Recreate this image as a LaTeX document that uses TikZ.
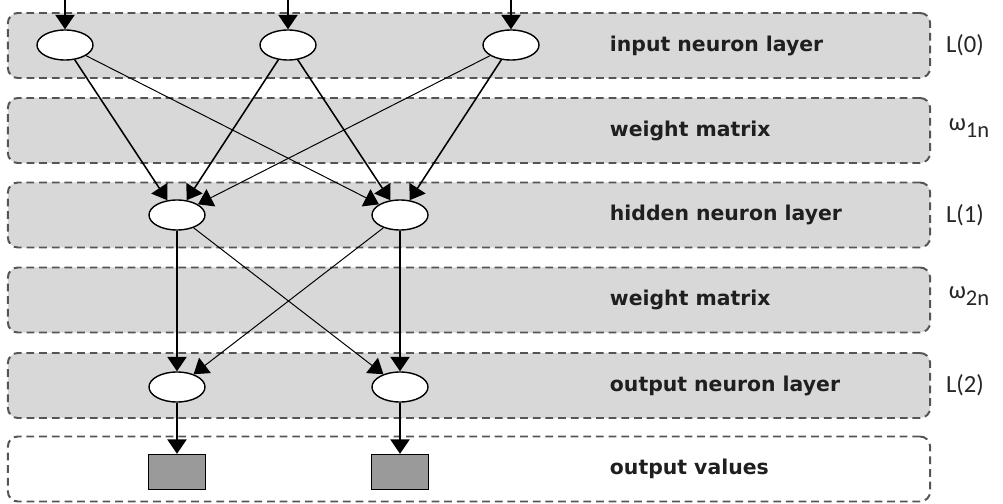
\documentclass[tikz,border=0pt]{standalone}
\usepackage{fontspec}
\usepackage{tikz}
\usetikzlibrary{
  arrows.meta,
  shapes
}
\newfontfamily\layerfont{DejaVu Sans}
\newfontfamily\sidefont{Carlito}
\definecolor{bandgray}{HTML}{D8D8D8}
\definecolor{dashgray}{HTML}{555555}
\definecolor{outgray}{HTML}{9A9A9A}
\newcommand{\wsub}[1]{ω\raisebox{-0.6ex}{\fontsize{16}{18}\selectfont #1}}
\tikzset{
  layer/.style={
    draw=dashgray,
    fill=bandgray,
    line width=1.4pt,
    dash pattern=on 5.5pt off 3.5pt,
    rounded corners=0.25cm,
    minimum width=23.05cm,
    minimum height=1.625cm},
  neuron/.style={
    ellipse,
    draw,
    fill=white,
    line width=1pt,
    minimum width=1.4cm,
    minimum height=0.75cm},
  outbox/.style={
    rectangle,
    draw,
    fill=outgray,
    line width=1pt,
    minimum width=1.425cm,
    minimum height=0.875cm},
  syn/.style={
    draw,
    -{Triangle[length=0.36cm,width=0.48cm]},
    line width=1.1pt},
  synthin/.style={
    syn,
    line width=0.7pt},
  tag/.style={
    anchor=west,
    font=\layerfont\bfseries\fontsize{14.5}{16}\selectfont,
    text=black!88},
  side/.style={
    font=\sidefont\fontsize{17.5}{20}\selectfont,
    text=black!85}
}

\begin{document}
\begin{tikzpicture}[x=0.025cm,y=-0.025cm]
    \useasboundingbox (0,0) rectangle (1003,504);
    % layer bands
    \node[layer] (band0) at (469,45.5) {};
    \node[layer] (band1) at (469,130.5) {};
    \node[layer] (band2) at (469,215) {};
    \node[layer] (band3) at (469,300) {};
    \node[layer] (band4) at (469,385.5) {};
    \node[layer,fill=white] (band5) at (469,469) {};
    \node[tag] (t0) at (605,45.5) {input neuron layer};
    \node[tag] (t1) at (605,130.5) {weight matrix};
    \node[tag] (t2) at (605,215) {hidden neuron layer};
    \node[tag] (t3) at (605,300) {weight matrix};
    \node[tag] (t4) at (605,385.5) {output neuron layer};
    \node[tag] (t5) at (605,469) {output values};
    \node[side] (s0) at (965,45.5) {L(0)};
    \node[side] (s1) at (969,128) {\wsub{1n}};
    \node[side] (s2) at (965,215) {L(1)};
    \node[side] (s3) at (969,296) {\wsub{2n}};
    \node[side] (s4) at (965,385.5) {L(2)};
    % neurons
    \coordinate (x1) at (65,0);
    \coordinate (x2) at (288,0);
    \coordinate (x3) at (511,0);
    \node[neuron] (i1) at (65,45) {};
    \node[neuron] (i2) at (288,45) {};
    \node[neuron] (i3) at (511,45) {};
    \node[neuron] (h1) at (177,215) {};
    \node[neuron] (h2) at (400,215) {};
    \node[neuron] (o1) at (177,387) {};
    \node[neuron] (o2) at (400,387) {};
    \node[outbox] (v1) at (177,472) {};
    \node[outbox] (v2) at (400,472) {};
    \path
      (x1) edge[syn] (i1)
      (x2) edge[syn] (i2)
      (x3) edge[syn] (i3)
      (i1) edge[syn] (h1)
      (i2) edge[syn] (h1)
      (i2) edge[syn] (h2)
      (i3) edge[syn] (h2)
      (h1) edge[syn] (o1)
      (h2) edge[syn] (o2)
      (o1) edge[syn] (v1)
      (o2) edge[syn] (v2);
    \path
      (i1) edge[synthin] (h2)
      (i3) edge[synthin] (h1)
      (h1) edge[synthin] (o2)
      (h2) edge[synthin] (o1);
\end{tikzpicture}
\end{document}
